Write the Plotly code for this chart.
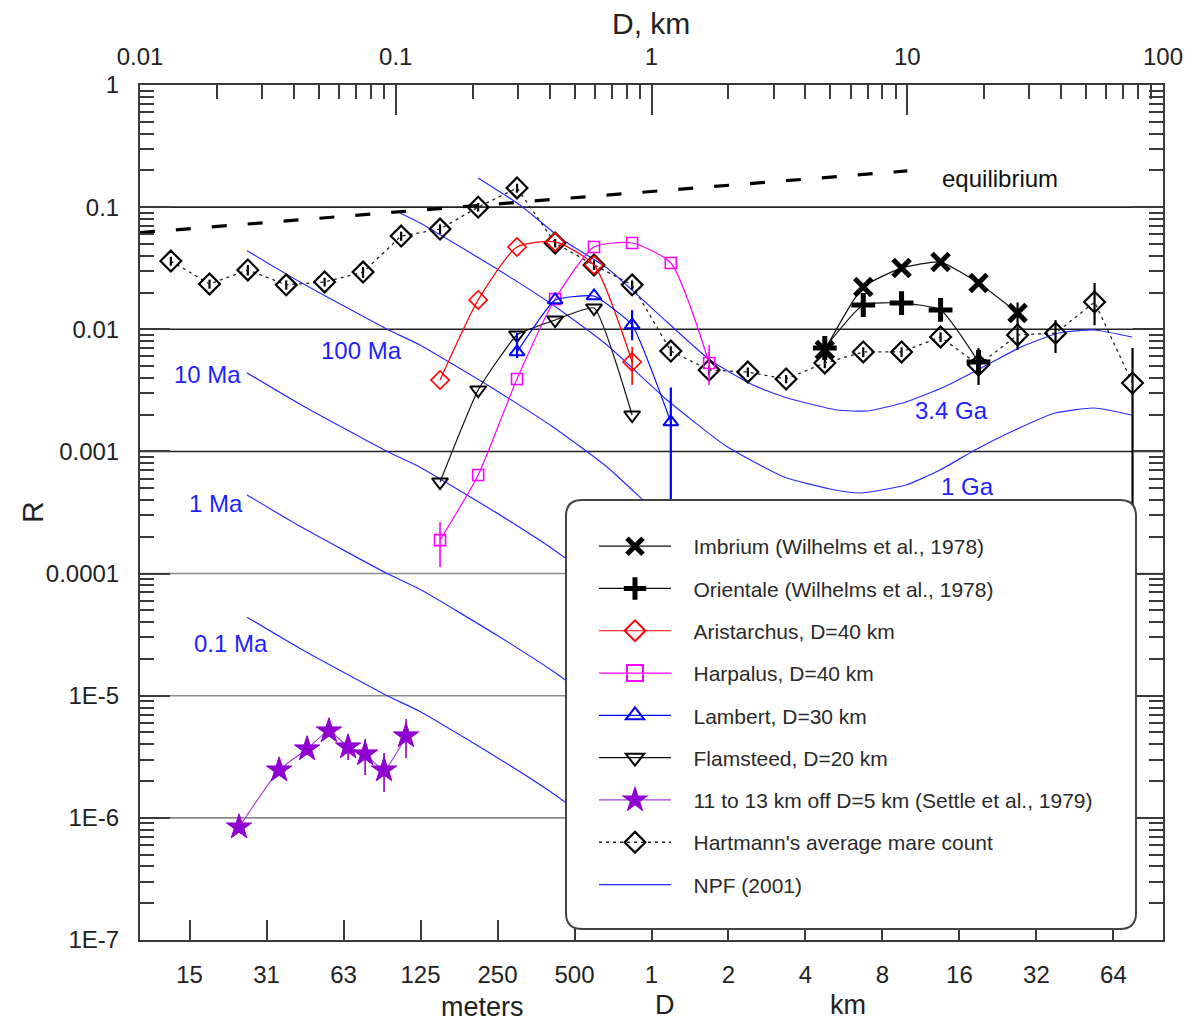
import plotly.graph_objects as go

# ---------------- data ----------------
# Hartmann's average mare count
hart_d = [0.0132, 0.0187, 0.0264, 0.0373, 0.0527, 0.0745, 0.105, 0.149, 0.21, 0.298, 0.42, 0.596,
          0.84, 1.19, 1.68, 2.38, 3.36, 4.76, 6.73, 9.5, 13.5, 19.0, 27.0, 38.0, 54.0, 76.0]
hart_r = [0.0362, 0.0235, 0.0306, 0.0231, 0.0244, 0.0294, 0.058, 0.0662, 0.100, 0.1435, 0.0508, 0.0336,
          0.0231, 0.00664, 0.00464, 0.00447, 0.00392, 0.0053, 0.00652, 0.00652, 0.00865, 0.0051,
          0.00898, 0.0093, 0.0167, 0.00363]
hart_ep = [0.003, 0.002, 0.003, 0.002, 0.002, 0.003, 0.005, 0.006, 0.008, 0.012, 0.004, 0.003,
           0.002, 0.0006, 0.0004, 0.0004, 0.0003, 0.0005, 0.0006, 0.0006, 0.0008, 0.0005,
           0.0015, 0.0026, 0.0072, 0.0034]
hart_em = [0.003, 0.002, 0.003, 0.002, 0.002, 0.003, 0.005, 0.006, 0.008, 0.012, 0.004, 0.003,
           0.002, 0.0006, 0.0004, 0.0004, 0.0003, 0.0005, 0.0006, 0.0006, 0.0008, 0.0005,
           0.0022, 0.0029, 0.0059, 0.00353]

# Aristarchus
ari_d = [0.149, 0.21, 0.298, 0.42, 0.596, 0.84]
ari_r = [0.00384, 0.0174, 0.0472, 0.0519, 0.0336, 0.0054]
ari_ep = [0, 0, 0, 0, 0, 0.0018]
ari_em = [0, 0, 0, 0, 0, 0.0019]

# Harpalus
har_d = [0.149, 0.21, 0.298, 0.42, 0.596, 0.84, 1.19, 1.68]
har_r = [1.88e-4, 6.41e-4, 0.00392, 0.0177, 0.0472, 0.0509, 0.0349, 0.0053]
har_ep = [7.6e-5, 0, 0, 0, 0, 0, 0, 0.0021]
har_em = [7.5e-5, 0, 0, 0, 0, 0, 0, 0.0018]

# Lambert
lam_d = [0.298, 0.42, 0.596, 0.84, 1.19]
lam_r = [0.00652, 0.01737, 0.01873, 0.01084, 0.001741]
lam_ep = [0.0028, 0, 0, 0.0035, 0.0016]
lam_em = [0.0007, 0, 0, 0.0027, 0.00164]

# Flamsteed
fla_d = [0.149, 0.21, 0.298, 0.42, 0.596, 0.84]
fla_r = [5.62e-4, 0.003184, 0.008979, 0.01191, 0.01494, 0.001987]

# Imbrium
imb_d = [4.76, 6.73, 9.5, 13.5, 19.0, 27.0]
imb_r = [0.00677, 0.0222, 0.0317, 0.0355, 0.0239, 0.0136]
imb_ep = [0, 0, 0, 0, 0, 0.003]
imb_em = [0, 0, 0, 0, 0, 0.003]

# Orientale
ori_d = [4.76, 6.73, 9.5, 13.5, 19.0]
ori_r = [0.00703, 0.0158, 0.0164, 0.0144, 0.0054]
ori_ep = [0, 0, 0, 0, 0.0016]
ori_em = [0, 0, 0, 0, 0.0019]

# Settle et al. (1979)
set_d = [0.0244, 0.035, 0.045, 0.0548, 0.0651, 0.0759, 0.090, 0.1097]
set_r = [8.4e-7, 2.46e-6, 3.66e-6, 5.14e-6, 3.8e-6, 3.33e-6, 2.46e-6, 4.68e-6]
set_ep = [0, 0, 0.5e-6, 0, 0.97e-6, 1.09e-6, 0.94e-6, 1.77e-6]
set_em = [0, 0, 0.4e-6, 0, 0.82e-6, 1.09e-6, 0.83e-6, 1.59e-6]

# Equilibrium
eq_d = [0.01, 10.0]
eq_r = [0.0618, 0.198]

# NPF (2001) isochrons
npf_d_young = [0.02621, 0.04223, 0.0922, 0.1244, 0.2488, 0.412, 0.67, 1.15, 1.956]
npf_100ma = [0.04398, 0.02438, 0.01005, 0.007434, 0.003125, 0.001585, 7.457e-4, 2.643e-4, 1.11e-4]
npf_10ma = [0.004398, 0.002438, 0.001005, 7.434e-4, 3.125e-4, 1.585e-4, 7.457e-5, 2.643e-5, 1.11e-5]
npf_1ma = [4.398e-4, 2.438e-4, 1.005e-4, 7.434e-5, 3.125e-5, 1.585e-5, 7.457e-6, 2.643e-6, 1.11e-6]
npf_01ma = [4.398e-5, 2.438e-5, 1.005e-5, 7.434e-6, 3.125e-6, 1.585e-6, 7.457e-7, 2.643e-7]

npf_d_1ga = [0.1039, 0.1244, 0.2488, 0.412, 0.67, 1.15, 1.956, 3.298, 4.989, 6.535, 9.888, 13.43,
             18.41, 26.38, 37.82, 53.73, 75.65]
npf_1ga = [0.08954, 0.07419, 0.03114, 0.0158, 0.007434, 0.002636, 0.001107, 6.173e-4, 4.923e-4,
           4.566e-4, 5.311e-4, 7.047e-4, 0.001027, 0.001498, 0.002063, 0.002267, 0.001987]

npf_d_34 = [0.2097, 0.306, 0.4508, 0.67, 1.15, 1.693, 2.494, 3.298, 5.313, 7.023, 9.888, 13.92,
            19.78, 27.85, 39.22, 53.73, 75.65]
npf_34 = [0.1733, 0.1041, 0.05383, 0.03174, 0.01147, 0.005605, 0.003498, 0.00279, 0.002183,
          0.002142, 0.002539, 0.003369, 0.004911, 0.007158, 0.009322, 0.009865, 0.008646]

# legend entries
legend_names = ["Imbrium (Wilhelms et al., 1978)", "Orientale (Wilhelms et al., 1978)",
                "Aristarchus, D=40 km", "Harpalus, D=40 km", "Lambert, D=30 km",
                "Flamsteed, D=20 km", "11 to 13 km off D=5 km (Settle et al., 1979)",
                "Hartmann's average mare count", "NPF (2001)"]

# axis ticks
top_tickvals = [0.01, 0.1, 1, 10, 100]
top_ticktext = ["0.01", "0.1", "1", "10", "100"]
bot_tickvals = [1/64, 1/32, 1/16, 1/8, 1/4, 1/2, 1, 2, 4, 8, 16, 32, 64]
bot_ticktext = ["15", "31", "63", "125", "250", "500", "1", "2", "4", "8", "16", "32", "64"]
y_tickvals = [1, 0.1, 0.01, 0.001, 1e-4, 1e-5, 1e-6, 1e-7]
y_ticktext = ["1", "0.1", "0.01", "0.001", "0.0001", "1E-5", "1E-6", "1E-7"]

# ---------------- figure ----------------
FONT = "Liberation Sans, Arial, sans-serif"
OFF = 8                      # page body margin
W, H = 1193, 1015
L, R, T, B = 132, 38, 77, 83
PW, PH = W - L - R, H - T - B


def px(x):   # window pixel -> paper
    return (x - OFF - L) / PW


def py(y):
    return (OFF + H - B - y) / PH


def err(plus, minus, color, thick=2.0):
    return dict(type="data", symmetric=False, array=plus, arrayminus=minus,
                color=color, thickness=thick, width=0, visible=True)


fig = go.Figure()

NPF_BLUE = "#2b2bff"
npf_sets = [(npf_d_young, npf_100ma), (npf_d_young, npf_10ma), (npf_d_young, npf_1ma),
            (npf_d_young[:len(npf_01ma)], npf_01ma), (npf_d_1ga, npf_1ga), (npf_d_34, npf_34)]
for dd, rr in npf_sets:
    fig.add_trace(go.Scatter(x=dd, y=rr, mode="lines",
                             line=dict(color=NPF_BLUE, width=1.2, shape="spline", smoothing=0.5),
                             showlegend=False, hoverinfo="skip"))

fig.add_trace(go.Scatter(x=eq_d, y=eq_r, mode="lines",
                         line=dict(color="black", width=3.2, dash="15px,21px"),
                         showlegend=False, hoverinfo="skip"))

# (style, x, y, err+, err-, line) for each series
HART_LINE = dict(color="#222", width=1.3, dash="3px,4px")
series = [
    dict(x=hart_d, y=hart_r, ep=hart_ep, em=hart_em, color="black", line=HART_LINE,
         sym="diamond-open", size=16, lw=2.2, lsize=20, lname=7),
    dict(x=ari_d, y=ari_r, ep=ari_ep, em=ari_em, color="#ff0000",
         line=dict(color="#ff0000", width=1.2, shape="spline", smoothing=0.6),
         sym="diamond-open", size=14, lw=1.6, lsize=20, lname=2),
    dict(x=har_d, y=har_r, ep=har_ep, em=har_em, color="#ff00ff",
         line=dict(color="#ff00ff", width=1.2, shape="spline", smoothing=0.6),
         sym="square-open", size=11, lw=1.6, lsize=18, lname=3),
    dict(x=fla_d, y=fla_r, ep=None, em=None, color="black",
         line=dict(color="#111", width=1.2, shape="spline", smoothing=0.4),
         sym="triangle-down-open", size=14, lw=2, lsize=17, lname=5),
    dict(x=lam_d, y=lam_r, ep=lam_ep, em=lam_em, color="#0000ff",
         line=dict(color="#0000ff", width=1.2, shape="spline", smoothing=0.4),
         sym="triangle-up-open", size=13, lw=2, lsize=17, lname=4),
    dict(x=ori_d, y=ori_r, ep=ori_ep, em=ori_em, color="black",
         line=dict(color="#111", width=1.2, shape="spline", smoothing=0.5),
         sym="cross-thin", size=17, lw=5, lsize=20, lname=1),
    dict(x=imb_d, y=imb_r, ep=imb_ep, em=imb_em, color="black",
         line=dict(color="#111", width=1.2, shape="spline", smoothing=0.5),
         sym="x-thin", size=17, lw=5, lsize=20, lname=0),
    dict(x=set_d, y=set_r, ep=set_ep, em=set_em, color="#9000d0",
         line=dict(color="#a040d8", width=1.2, shape="spline", smoothing=0.5),
         sym="star", size=19, lw=1, lsize=20, lname=6),
]
for s in series:
    kw = {}
    if s["ep"] is not None:
        kw["error_y"] = err(s["ep"], s["em"], s["color"], 2.2 if s["lw"] >= 2 else 1.6)
    fig.add_trace(go.Scatter(x=s["x"], y=s["y"], mode="lines+markers", line=s["line"],
                             marker=dict(symbol=s["sym"], size=s["size"], color=s["color"],
                                         line=dict(color=s["color"], width=s["lw"])),
                             showlegend=False, hoverinfo="skip", **kw))

# legend-only entries (no data points)
NB = "\u00a0\u00a0\u00a0"
for s in sorted(series, key=lambda t: t["lname"]):
    fig.add_trace(go.Scatter(x=[None], y=[None], mode="lines+markers", line=s["line"],
                             marker=dict(symbol=s["sym"], size=s["lsize"], color=s["color"],
                                         line=dict(color=s["color"],
                                                   width=(6 if s["lw"] >= 5 else max(s["lw"], 2)))),
                             name=NB + legend_names[s["lname"]], legendgroup="g%d" % s["lname"],
                             legendrank=s["lname"] + 1))
fig.add_trace(go.Scatter(x=[None], y=[None], mode="lines", line=dict(color=NPF_BLUE, width=1.2),
                         name=NB + legend_names[8], legendgroup="g8", legendrank=9))

# invisible trace so the top axis is drawn
fig.add_trace(go.Scatter(x=[top_tickvals[0], top_tickvals[-1]], y=[1e-7, 1e-7], xaxis="x2",
                         mode="markers", marker=dict(opacity=0), showlegend=False, hoverinfo="skip"))

AX = "#3a3a3a"
minor_y = [m * 10.0 ** e for e in range(-7, 0) for m in range(2, 10)]
minor_x = [m * 10.0 ** e for e in range(-2, 2) for m in range(2, 10)]

fig.update_layout(
    width=W, height=H,
    margin=dict(l=L, r=R, t=T, b=B, pad=0),
    paper_bgcolor="white", plot_bgcolor="white",
    font=dict(family=FONT, color="#222"),
    xaxis=dict(type="log", range=[-2, 2], tickmode="array", tickvals=bot_tickvals,
               ticktext=bot_ticktext, ticks="inside", ticklen=20, tickwidth=1.5, tickcolor=AX,
               showline=True, linecolor=AX, linewidth=2, showgrid=False, zeroline=False,
               tickfont=dict(size=24, family=FONT, color="#222"), ticklabelstandoff=12),
    xaxis2=dict(type="log", range=[-2, 2], overlaying="x", side="top", anchor="y",
                tickmode="array", tickvals=top_tickvals, ticktext=top_ticktext,
                ticks="inside", ticklen=30, tickwidth=1.5, tickcolor=AX,
                minor=dict(tickmode="array", tickvals=minor_x, ticks="inside", ticklen=14,
                           tickwidth=1.5, tickcolor=AX, showgrid=False),
                showline=True, linecolor=AX, linewidth=2, showgrid=False, zeroline=False,
                tickfont=dict(size=24, family=FONT, color="#222"), ticklabelstandoff=8),
    yaxis=dict(type="log", range=[-7, 0], tickmode="array", tickvals=y_tickvals,
               ticktext=y_ticktext, ticks="inside", ticklen=30, tickwidth=1.5, tickcolor=AX,
               minor=dict(tickmode="array", tickvals=minor_y, ticks="inside", ticklen=14,
                          tickwidth=1.5, tickcolor=AX, showgrid=False),
               showline=True, linecolor=AX, linewidth=2, mirror="ticks", showgrid=False,
               zeroline=False, tickfont=dict(size=24, family=FONT, color="#222"),
               ticklabelstandoff=14),
    showlegend=True,
    legend=dict(x=px(594), y=py(526), xanchor="left", yanchor="top", bgcolor="rgba(0,0,0,0)",
                borderwidth=0, font=dict(family=FONT, size=21, color="#2a2a2a"),
                itemwidth=72, traceorder="grouped", tracegroupgap=12, itemsizing="trace"),
)

shapes = []
# decade grid lines
for v, c in [(0.1, "#222"), (0.01, "#222"), (0.001, "#222"), (1e-4, "#8a8a8a"),
             (1e-5, "#8a8a8a"), (1e-6, "#8a8a8a")]:
    shapes.append(dict(type="line", xref="paper", yref="y", x0=0, x1=1, y0=v, y1=v,
                       line=dict(color=c, width=1.6), layer="below"))

# rounded legend box
x0, x1, y0, y1 = px(566), px(1136), py(929), py(500)
rx, ry = 16 / PW, 16 / PH
path = (f"M {x0+rx},{y1} L {x1-rx},{y1} Q {x1},{y1} {x1},{y1-ry} L {x1},{y0+ry} "
        f"Q {x1},{y0} {x1-rx},{y0} L {x0+rx},{y0} Q {x0},{y0} {x0},{y0+ry} "
        f"L {x0},{y1-ry} Q {x0},{y1} {x0+rx},{y1} Z")
shapes.append(dict(type="path", xref="paper", yref="paper", path=path, fillcolor="white",
                   line=dict(color="#444", width=2), layer="above"))
# page edge strip on the right
shapes.append(dict(type="rect", xref="paper", yref="paper", x0=px(1194), x1=px(1215), y0=py(1030),
                   y1=py(0), fillcolor="#b5aea6", line=dict(width=0), layer="above"))
fig.update_layout(shapes=shapes)

ann = []


def txt(x, y, s, size=24, color="#222", angle=0):
    ann.append(dict(xref="paper", yref="paper", x=px(x), y=py(y), text=s, showarrow=False,
                    xanchor="center", yanchor="middle", textangle=angle,
                    font=dict(family=FONT, size=size, color=color)))


BL = "#1f1fff"
txt(951, 410, "3.4 Ga", 24, BL)
txt(967, 486, "1 Ga", 24, BL)
txt(361, 350, "100 Ma", 24, BL)
txt(207, 374, "10 Ma", 24, BL)
txt(216, 503, "1 Ma", 24, BL)
txt(231, 643, "0.1 Ma", 24, BL)
txt(1000, 179, "equilibrium", 24, "#111")
txt(651, 24, "D, km", 30)
txt(33, 512, "R", 30, angle=-90)
txt(482, 1007, "meters", 27)
txt(665, 1005, "D", 27)
txt(848, 1005, "km", 27)
fig.update_layout(annotations=ann)

fig.write_html("out.html")
